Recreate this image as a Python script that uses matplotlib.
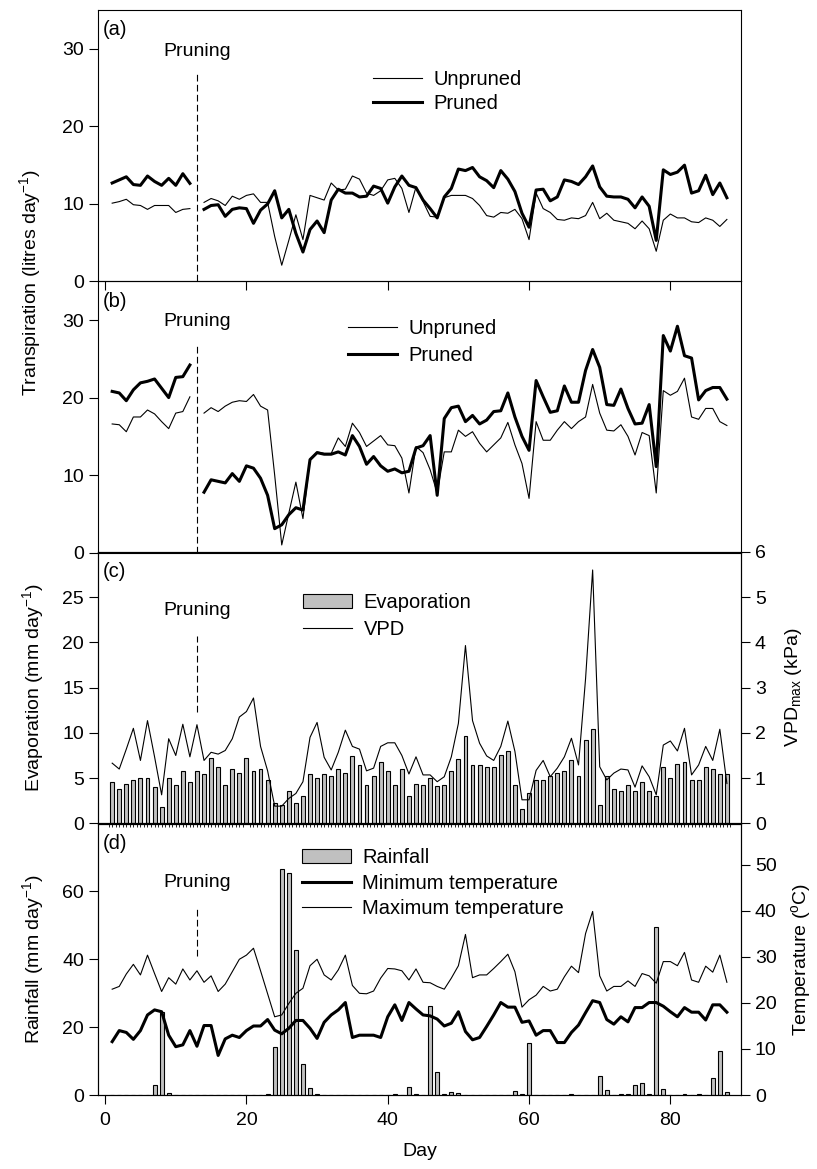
import numpy as np
import matplotlib
matplotlib.use("Agg")
import matplotlib.pyplot as plt

plt.rcParams["font.family"] = ["Liberation Sans", "DejaVu Sans"]
plt.rcParams["mathtext.fontset"] = "custom"
plt.rcParams["mathtext.rm"] = "Liberation Sans"
plt.rcParams["mathtext.it"] = "Liberation Sans"
plt.rcParams["mathtext.default"] = "regular"
plt.rcParams["font.size"] = 14
plt.rcParams["xtick.direction"] = "out"
plt.rcParams["ytick.direction"] = "out"
plt.rcParams["xtick.major.size"] = 6.5
plt.rcParams["ytick.major.size"] = 6.5
plt.rcParams["xtick.major.pad"] = 6
plt.rcParams["xtick.labelsize"] = 14
plt.rcParams["ytick.labelsize"] = 14

nan = np.nan
days = np.arange(1, 89)
pruning_day = 13

# (a) transpiration, litres/day (day 13 = pruning, no data)
unpruned_a = [10.1, 10.3, 10.6, 9.9, 9.8, 9.3, 9.8, 9.8, 9.8, 8.9, 9.3, 9.4, nan,
              10.2, 10.7, 10.4, 9.8, 11.0, 10.6, 11.1, 11.3, 10.2, 10.2,
              5.8, 2.1, 5.3, 8.6, 5.4, 11.1, 10.8, 10.5, 12.7, 11.8,
              11.9, 13.6, 13.2, 11.4, 11.1, 11.7, 13.1, 13.3, 12.0, 8.9,
              12.2, 10.3, 8.4, 8.3, 10.8,
              11.1, 11.1, 11.1, 10.7, 9.8, 8.5, 8.3, 8.9, 8.8, 9.3,
              8.1, 5.4, 11.4, 9.4, 8.9, 8.0, 7.9, 8.2, 8.1, 8.5,
              10.2, 8.1, 8.8, 7.9, 7.7, 7.5, 6.8, 7.8, 6.8, 3.9,
              7.9, 8.7, 8.2, 8.2, 7.7, 7.6, 8.2, 7.9, 7.1, 8.0]
pruned_a = [12.7, 13.1, 13.5, 12.5, 12.4, 13.6, 12.9, 12.4, 13.3, 12.4, 13.9, 12.65, nan,
            9.3, 9.8, 9.9, 8.4, 9.3, 9.5, 9.4, 7.5, 9.2, 10.0,
            11.7, 8.2, 9.3, 6.2, 3.8, 6.7, 7.8, 6.3, 10.5, 11.9,
            11.4, 11.4, 10.9, 11.0, 12.3, 12.0, 10.1, 12.2, 13.6, 12.4,
            12.1, 10.5, 9.4, 8.2, 10.9,
            12.0, 14.5, 14.3, 14.7, 13.5, 13.0, 12.1, 14.3, 13.2, 11.6,
            8.8, 7.0, 11.8, 11.9, 10.4, 10.9, 13.1, 12.9, 12.5, 13.5,
            14.9, 12.2, 11.0, 10.9, 10.9, 10.6, 9.5, 10.9, 9.7, 5.3,
            14.4, 13.8, 14.1, 15.0, 11.4, 11.7, 13.7, 11.2, 12.7, 10.8]

# (b) transpiration, litres/day
unpruned_b = [16.6, 16.5, 15.6, 17.5, 17.5, 18.4, 17.9, 16.9, 16.0, 18.0, 18.2, 20.1, nan,
              18.0, 18.7, 18.2, 18.9, 19.4, 19.6, 19.5, 20.4, 18.9, 18.4,
              10.0, 1.0, 5.1, 9.1, 4.4, 12.0, 13.0, 12.8, 12.8, 14.8,
              13.7, 16.7, 15.5, 13.7, 14.4, 15.1, 13.9, 13.8, 12.2, 7.7,
              13.7, 12.9, 10.7, 7.7, 13.0,
              13.0, 15.8, 15.0, 15.6, 14.1, 13.0, 13.9, 14.8, 16.8, 13.9,
              11.5, 7.0, 16.9, 14.5, 14.5, 15.8, 16.9, 16.0, 16.9, 17.5,
              21.7, 18.0, 15.8, 15.7, 16.5, 15.0, 12.6, 15.5, 15.1, 7.7,
              20.9, 20.3, 20.8, 22.5, 17.5, 17.2, 18.6, 18.6, 16.9, 16.4]
pruned_b = [20.8, 20.6, 19.6, 21.0, 21.9, 22.1, 22.4, 21.2, 20.0, 22.6, 22.7, 24.2, nan,
            7.8, 9.4, 9.2, 9.0, 10.2, 9.2, 11.2, 10.9, 9.6, 7.4,
            3.1, 3.6, 4.9, 5.8, 5.5, 12.0, 12.9, 12.7, 12.7, 13.0,
            12.6, 15.1, 13.7, 11.4, 12.4, 11.2, 10.5, 10.8, 10.3, 10.5,
            13.5, 13.8, 15.1, 7.4, 17.3,
            18.7, 18.9, 16.9, 17.7, 16.6, 17.1, 18.2, 18.3, 20.6, 17.5,
            15.0, 13.2, 22.2, 20.1, 18.1, 18.3, 21.5, 19.4, 19.4, 23.5,
            26.2, 23.9, 19.1, 19.0, 21.1, 18.6, 16.6, 16.7, 19.1, 11.1,
            28.0, 26.0, 29.2, 25.4, 25.1, 19.7, 20.9, 21.3, 21.3, 19.8]

# (c) evaporation (mm/day) and max VPD (kPa)
evaporation = [4.6, 3.8, 4.4, 4.8, 5.0, 5.0, 4.0, 1.8, 5.0, 4.2,
               5.8, 4.6, 5.8, 5.4, 7.2, 6.2, 4.2, 6.0, 5.6, 7.2,
               5.8, 6.0, 4.8, 2.2, 2.0, 3.6, 2.2, 3.0, 5.4, 5.0,
               5.4, 5.2, 6.0, 5.6, 7.4, 6.4, 4.2, 5.2, 6.8, 5.8,
               4.2, 6.0, 3.0, 4.4, 4.2, 5.0, 4.1, 4.2, 5.8, 7.1,
               9.6, 6.4, 6.4, 6.2, 6.2, 7.6, 8.0, 4.2, 1.6, 3.4,
               4.8, 4.8, 5.2, 5.6, 5.8, 7.0, 5.2, 9.2, 10.4, 2.0,
               5.2, 3.8, 3.6, 4.2, 3.6, 4.6, 3.6, 3.0, 6.2, 5.0,
               6.6, 6.8, 4.8, 4.8, 6.2, 6.0, 5.4, 5.4]
vpd = [1.33, 1.20, 1.64, 2.10, 1.39, 2.27, 1.47, 0.63, 1.87, 1.50,
       2.19, 1.47, 2.18, 1.39, 1.57, 1.53, 1.61, 1.87, 2.35, 2.47,
       2.77, 1.70, 1.16, 0.38, 0.38, 0.55, 0.66, 0.92, 1.90, 2.23,
       1.46, 1.18, 1.57, 2.06, 1.70, 1.64, 1.16, 1.22, 1.70, 1.78,
       1.78, 1.50, 1.09, 1.47, 1.07, 1.07, 0.92, 1.03, 1.47, 2.21,
       3.93, 2.27, 1.77, 1.49, 1.39, 1.70, 2.26, 1.59, 0.52, 0.52,
       1.17, 1.39, 1.03, 1.22, 1.47, 1.88, 1.29, 3.20, 5.60, 1.25,
       0.96, 1.11, 1.20, 1.18, 0.80, 1.27, 1.03, 0.63, 1.73, 1.82,
       1.60, 2.10, 1.07, 1.29, 1.70, 1.39, 2.08, 0.88]

# (d) rainfall (mm/day) and temperature (C)
rainfall = [0, 0, 0, 0, 0, 0, 2.9, 24.5, 0.5, 0,
            0, 0, 0, 0, 0, 0, 0, 0, 0, 0,
            0, 0, 0.3, 14.2, 66.7, 65.4, 42.6, 9.0, 2.0, 0.3,
            0, 0, 0, 0, 0, 0, 0, 0, 0, 0,
            0.3, 0, 2.5, 0.3, 0, 26.2, 6.9, 0.3, 1.0, 0.5,
            0, 0, 0, 0, 0, 0, 0, 1.2, 0.3, 15.4,
            0, 0, 0, 0, 0, 0.3, 0, 0, 0, 5.6,
            1.5, 0, 0.3, 0.3, 2.9, 3.6, 0.3, 49.5, 1.7, 0,
            0, 0.2, 0, 0.2, 0, 4.9, 13.0, 0.8]
t_min = [11.6, 14.0, 13.6, 12.1, 14.0, 17.4, 18.5, 18.1, 13.0, 10.5,
         10.9, 14.0, 10.6, 15.1, 15.1, 8.6, 12.2, 13.0, 12.5, 14.0,
         15.0, 15.0, 16.4, 14.1, 13.3, 14.5, 16.2, 16.2, 14.5, 12.3,
         15.8, 17.4, 18.5, 20.1, 12.5, 13.0, 13.0, 13.0, 12.5, 17.0,
         19.6, 16.2, 20.1, 18.7, 17.4, 17.2, 16.5, 15.0, 15.6, 18.1,
         13.8, 12.0, 12.5, 14.9, 17.4, 20.1, 19.1, 19.1, 15.8, 16.1,
         13.0, 14.0, 14.0, 11.4, 11.4, 13.6, 15.2, 17.9, 20.5, 20.1,
         16.4, 15.4, 17.0, 15.9, 19.0, 19.0, 20.1, 20.1, 19.3, 18.1,
         17.0, 19.0, 18.0, 18.0, 16.3, 19.6, 19.6, 18.0]
t_max = [23.0, 23.6, 26.3, 28.4, 26.1, 30.4, 26.4, 22.5, 25.5, 24.1,
         27.4, 25.0, 27.0, 24.5, 25.9, 22.5, 24.1, 26.8, 29.5, 30.4,
         31.9, 27.0, 22.0, 17.0, 17.4, 19.9, 22.1, 23.2, 28.1, 29.5,
         26.1, 25.0, 27.2, 30.4, 23.8, 22.1, 22.0, 22.6, 25.4, 27.5,
         27.4, 27.0, 25.0, 27.4, 24.5, 24.4, 23.6, 23.0, 25.4, 28.1,
         34.9, 25.5, 26.1, 26.1, 27.5, 29.0, 30.6, 26.8, 19.1, 20.7,
         21.7, 23.6, 22.6, 23.0, 25.7, 28.0, 26.6, 35.1, 39.9, 25.9,
         22.6, 23.6, 23.6, 24.8, 23.6, 26.4, 25.9, 24.3, 29.0, 29.0,
         28.1, 31.0, 25.0, 24.5, 28.0, 26.7, 30.4, 24.5]

BAR_GREY = "#c0c0c0"
THIN = 0.8
THICK = 2.2

fig = plt.figure(figsize=(8.17, 11.69), dpi=100)
left, width, height = 0.120, 0.787, 0.2322
ax_a = fig.add_axes([left, 0.7592, width, height])
ax_b = fig.add_axes([left, 0.5272, width, height])
ax_c = fig.add_axes([left, 0.2957, width, height])
ax_d = fig.add_axes([left, 0.0633, width, height])

for ax in (ax_a, ax_b, ax_c, ax_d):
    ax.set_xlim(-1, 90)
    ax.set_xticks([0, 20, 40, 60, 80])
    # let the outward ticks of the panel above show through
    ax.patch.set_visible(False)


def add_pruning(ax, y0, y1, ytext):
    ax.plot([pruning_day, pruning_day], [y0, y1], color="black", lw=0.8,
            dashes=(6, 3))
    ax.text(pruning_day, ytext, "Pruning", ha="center", va="center", fontsize=14)


def legend_kw(x, y, spacing):
    return dict(loc="upper left", bbox_to_anchor=(x, y), frameon=False,
                fontsize=14.5, borderpad=0, borderaxespad=0, handlelength=2.45,
                handletextpad=0.55, labelspacing=spacing)


def panel_label(ax, text):
    ax.text(0.008, 0.962, text, transform=ax.transAxes, va="top", ha="left",
            fontsize=14.5)


# (a)
ax_a.plot(days, unpruned_a, color="black", lw=THIN, label="Unpruned")
ax_a.plot(days, pruned_a, color="black", lw=THICK, label="Pruned")
ax_a.set_ylim(0, 35)
ax_a.set_yticks([0, 10, 20, 30])
ax_a.tick_params(axis="x", labelbottom=False)
add_pruning(ax_a, 0, 27.1, 29.6)
ax_a.legend(**legend_kw(0.427, 0.78, 0.25))
panel_label(ax_a, "(a)")

# (b)
ax_b.plot(days, unpruned_b, color="black", lw=THIN, label="Unpruned")
ax_b.plot(days, pruned_b, color="black", lw=THICK, label="Pruned")
ax_b.set_ylim(0, 35)
ax_b.set_yticks([0, 10, 20, 30])
ax_b.tick_params(axis="x", bottom=False, labelbottom=False)
add_pruning(ax_b, 0, 26.8, 29.8)
ax_b.legend(**legend_kw(0.389, 0.862, 0.4))
panel_label(ax_b, "(b)")

fig.text(30 / 817, 1 - 282 / 1169, "Transpiration (litres day$^{-1}$)",
         rotation=90, ha="center", va="center", fontsize=14)

# (c)
bars_c = ax_c.bar(days, evaporation, width=0.55, color=BAR_GREY, edgecolor="black",
                  linewidth=0.8, label="Evaporation")
ax_c.set_ylim(0, 30)
ax_c.set_yticks([0, 5, 10, 15, 20, 25])
ax_c.set_xticks(np.arange(0.5, 89, 0.5), minor=True)
ax_c.tick_params(axis="x", which="major", bottom=False, labelbottom=False)
ax_c.tick_params(axis="x", which="minor", length=3, width=0.6)
ax_c.set_ylabel("Evaporation (mm day$^{-1}$)", fontsize=14, labelpad=12)
ax_c2 = ax_c.twinx()
ax_c2.patch.set_visible(False)
line_vpd, = ax_c2.plot(days, vpd, color="black", lw=THIN, label="VPD")
ax_c2.set_ylim(0, 6)
ax_c2.set_yticks(range(7))
ax_c2.set_ylabel("VPD$_{max}$ (kPa)", fontsize=14, labelpad=12)
add_pruning(ax_c, 12.3, 20.7, 23.5)
ax_c.legend([bars_c, line_vpd], ["Evaporation", "VPD"], **legend_kw(0.319, 0.85, 0.4))
panel_label(ax_c, "(c)")

# (d)
bars_d = ax_d.bar(days, rainfall, width=0.55, color=BAR_GREY, edgecolor="black",
                  linewidth=0.8, label="Rainfall")
ax_d.set_ylim(0, 80)
ax_d.set_yticks([0, 20, 40, 60])
ax_d.set_ylabel("Rainfall (mm day$^{-1}$)", fontsize=14, labelpad=12)
ax_d.set_xlabel("Day", fontsize=14, labelpad=10)
ax_d2 = ax_d.twinx()
ax_d2.patch.set_visible(False)
line_min, = ax_d2.plot(days, t_min, color="black", lw=THICK)
line_max, = ax_d2.plot(days, t_max, color="black", lw=THIN)
ax_d2.set_ylim(0, 59)
ax_d2.set_yticks([0, 10, 20, 30, 40, 50])
ax_d2.set_ylabel("Temperature ($^{o}$C)", fontsize=14, labelpad=9)
add_pruning(ax_d, 40.9, 55.6, 62.7)
ax_d.legend([bars_d, line_min, line_max],
            ["Rainfall", "Minimum temperature", "Maximum temperature"],
            **legend_kw(0.317, 0.91, 0.33))
panel_label(ax_d, "(d)")

fig.savefig("out.png", dpi=100)
